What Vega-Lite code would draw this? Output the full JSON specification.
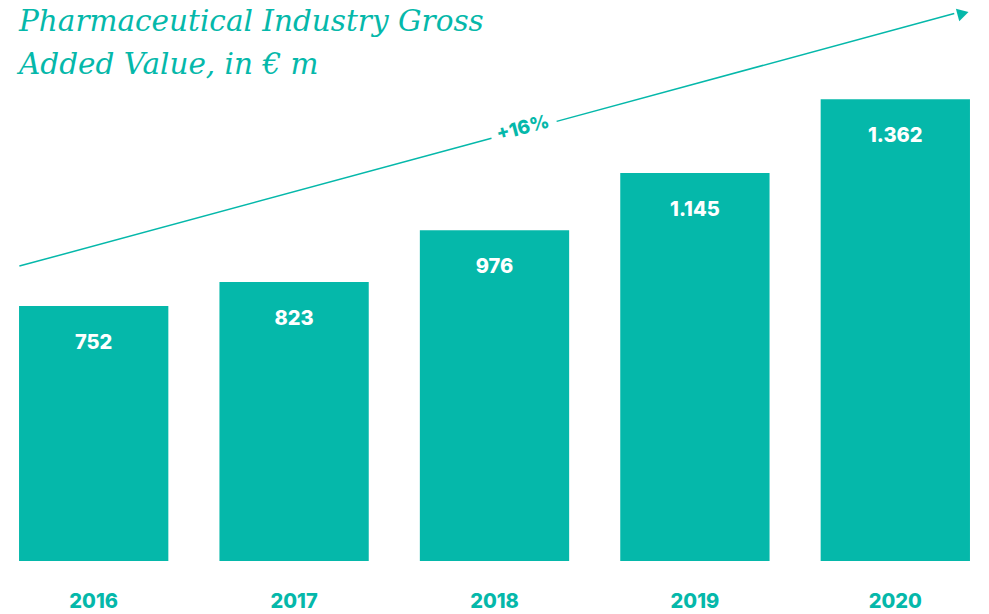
{
  "$schema": "https://vega.github.io/schema/vega-lite/v6.json",
  "width": 989,
  "height": 561,
  "padding": {"top": 0, "left": 0, "right": 0, "bottom": 53},
  "autosize": "none",
  "background": "white",
  "config": {"view": {"stroke": null}},
  "title": {
    "text": ["Pharmaceutical Industry Gross", "Added Value, in € m"],
    "anchor": "start",
    "frame": "group",
    "orient": "top",
    "offset": 0,
    "dy": 80,
    "dx": 19,
    "font": "DejaVu Serif",
    "fontStyle": "italic",
    "fontWeight": "normal",
    "fontSize": 29.5,
    "lineHeight": 43,
    "color": "#05b8aa"
  },
  "datasets": {
    "bars": [
      {"year": "2016", "value": 752, "label": "752"},
      {"year": "2017", "value": 823, "label": "823"},
      {"year": "2018", "value": 976, "label": "976"},
      {"year": "2019", "value": 1145, "label": "1.145"},
      {"year": "2020", "value": 1362, "label": "1.362"}
    ],
    "arrow": [
      {"seg": "a", "x": 2015.627, "y": 870},
      {"seg": "a", "x": 2017.99, "y": 1247},
      {"seg": "b", "x": 2018.316, "y": 1297},
      {"seg": "b", "x": 2020.306, "y": 1615}
    ],
    "head": [{"x": 2020.35, "y": 1615}],
    "note": [{"x": 2018.147, "y": 1277, "text": "+16%"}]
  },
  "layer": [
    {
      "layer": [
        {
          "data": {"name": "bars"},
          "mark": {"type": "bar", "color": "#05b8aa"},
          "encoding": {
            "x": {
              "field": "year", "type": "nominal",
              "scale": {"paddingInner": 0.255, "paddingOuter": 0.095},
              "axis": {
                "title": null, "domain": false, "ticks": false, "labelAngle": 0,
                "labelFont": "Inter", "labelFontWeight": 800, "labelFontSize": 20,
                "labelColor": "#05b8aa", "labelPadding": 30
              }
            },
            "y": {
              "field": "value", "type": "quantitative",
              "scale": {"domain": [0, 1655], "nice": false, "zero": true},
              "axis": null
            }
          }
        },
        {
          "data": {"name": "bars"},
          "mark": {"type": "text", "color": "white", "font": "Inter", "fontWeight": 800, "fontSize": 20, "baseline": "middle", "dy": 37},
          "encoding": {
            "x": {"field": "year", "type": "nominal"},
            "y": {"field": "value", "type": "quantitative"},
            "text": {"field": "label"}
          }
        }
      ]
    },
    {
      "layer": [
        {
          "data": {"name": "arrow"},
          "mark": {"type": "line", "color": "#05b8aa", "strokeWidth": 1.5},
          "encoding": {
            "x": {"field": "x", "type": "quantitative", "scale": {"domain": [2015.53, 2020.48], "nice": false, "zero": false}, "axis": null},
            "y": {"field": "y", "type": "quantitative"},
            "detail": {"field": "seg"}
          }
        },
        {
          "data": {"name": "head"},
          "mark": {"type": "point", "shape": "triangle-right", "filled": true, "color": "#05b8aa", "size": 170, "angle": -15, "opacity": 1},
          "encoding": {
            "x": {"field": "x", "type": "quantitative"},
            "y": {"field": "y", "type": "quantitative"}
          }
        },
        {
          "data": {"name": "note"},
          "mark": {"type": "text", "color": "#05b8aa", "font": "Inter", "fontWeight": 800, "fontSize": 19, "angle": -15, "baseline": "middle", "align": "center"},
          "encoding": {
            "x": {"field": "x", "type": "quantitative"},
            "y": {"field": "y", "type": "quantitative"},
            "text": {"field": "text"}
          }
        }
      ]
    }
  ],
  "resolve": {"scale": {"x": "independent"}}
}
